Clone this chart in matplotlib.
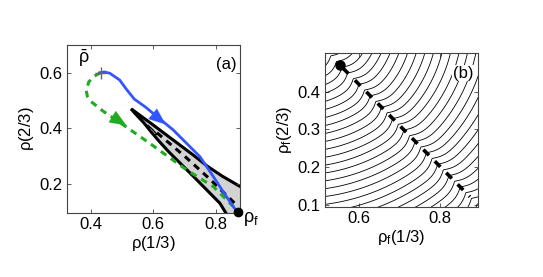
import numpy as np
import matplotlib

matplotlib.use("Agg")
import matplotlib.pyplot as plt
from matplotlib.patches import Polygon

plt.rcParams["font.family"] = ["Liberation Sans", "DejaVu Sans"]
plt.rcParams["mathtext.fontset"] = "custom"
plt.rcParams["mathtext.rm"] = "Liberation Sans"
plt.rcParams["mathtext.it"] = "Liberation Sans:italic"
plt.rcParams["font.size"] = 12

# ---- panel (a) data --------------------------------------------------------
blue_x = [0.429, 0.445, 0.462, 0.493, 0.515, 0.540, 0.575, 0.610, 0.664, 0.749, 0.792, 0.830, 0.862]
blue_y = [0.600, 0.603, 0.598, 0.574, 0.540, 0.505, 0.477, 0.444, 0.394, 0.298, 0.226, 0.160, 0.108]

green_x = [0.432, 0.412, 0.395, 0.386, 0.390, 0.402, 0.440, 0.482, 0.589, 0.707, 0.792, 0.856]
green_y = [0.600, 0.588, 0.568, 0.538, 0.515, 0.496, 0.462, 0.430, 0.346, 0.250, 0.190, 0.118]

# thin basin region (outline), runs off the right/bottom edge
region_x = [0.530, 0.560, 0.600, 0.640, 0.685, 0.730, 0.771, 0.820, 0.878, 0.900,
            0.900, 0.840, 0.813, 0.771, 0.730, 0.690, 0.650, 0.620, 0.595, 0.570, 0.540]
region_y = [0.470, 0.445, 0.412, 0.378, 0.340, 0.302, 0.265, 0.228, 0.190, 0.180,
            0.080, 0.080, 0.130, 0.178, 0.225, 0.270, 0.315, 0.352, 0.385, 0.420, 0.456]
hole_x = [0.582, 0.596, 0.612, 0.605, 0.588]
hole_y = [0.412, 0.398, 0.378, 0.376, 0.398]

bdash_x = [0.612, 0.700, 0.780, 0.862]
bdash_y = [0.384, 0.300, 0.218, 0.128]

rho_bar = (0.432, 0.600)
rho_f = (0.872, 0.100)

# ---- panel (b) data --------------------------------------------------------
path_x = [0.553, 0.874]
path_y = [0.470, 0.122]
field_center = (0.45, 0.585)
kink_strength = 0.6
kink_width = 0.03
levels = np.arange(0.08, 0.72, 0.0205)

fig = plt.figure(figsize=(5.43, 2.77), dpi=100)
ax_a = fig.add_axes([0.1234, 0.231, 0.3186, 0.6065])
ax_b = fig.add_axes([0.5985, 0.2527, 0.2818, 0.556])

spine_col = "#444444"
for ax in (ax_a, ax_b):
    for sp in ax.spines.values():
        sp.set_color(spine_col)
        sp.set_linewidth(0.8)
    ax.tick_params(direction="in", top=True, right=True, length=3, width=0.6,
                   color=spine_col, labelsize=12, pad=3)

# ---- (a) -------------------------------------------------------------------
region = Polygon(np.column_stack([region_x, region_y]), closed=True,
                 facecolor="#d3d3d3", edgecolor="black", lw=2.2, zorder=1)
ax_a.add_patch(region)
ax_a.fill(hole_x, hole_y, facecolor="#e6e6e6", edgecolor="black", lw=1.0, zorder=1.5)
ax_a.plot(bdash_x, bdash_y, color="black", lw=2.2, dashes=(2.2, 1.8), zorder=2)
ax_a.plot(green_x, green_y, color="#22aa22", lw=2.2, dashes=(2.2, 1.8), zorder=3)
ax_a.plot(blue_x, blue_y, color="#3355ff", lw=2.0, zorder=4)

# direction arrows
arrow_style = dict(arrowstyle="-|>,head_length=1.0,head_width=0.4", lw=0.1,
                   shrinkA=0, shrinkB=0)
ax_a.annotate("", xy=(0.640, 0.414), xytext=(0.590, 0.460),
              arrowprops=dict(color="#3355ff", **arrow_style), zorder=5)
ax_a.annotate("", xy=(0.515, 0.410), xytext=(0.455, 0.452),
              arrowprops=dict(color="#22aa22", **arrow_style), zorder=5)

ax_a.plot(*rho_bar, marker="+", color="#666666", ms=9, mew=1.0, zorder=6)
ax_a.plot(*rho_f, marker="o", color="black", ms=6, zorder=6, clip_on=False)
ax_a.text(0.360, 0.615, r"$\bar{\mathrm{\rho}}$", fontsize=13, ha="left", va="bottom")
ax_a.text(0.885, 0.075, r"$\mathrm{\rho_f}$", fontsize=13, ha="left", va="center",
          clip_on=False)
ax_a.text(0.865, 0.630, "(a)", ha="right", va="center", fontsize=12)

ax_a.set_xlim(0.325, 0.877)
ax_a.set_ylim(0.095, 0.700)
ax_a.set_xticks([0.4, 0.6, 0.8])
ax_a.set_yticks([0.2, 0.4, 0.6])
ax_a.set_xlabel(r"$\mathrm{\rho}$(1/3)", labelpad=1)
ax_a.set_ylabel(r"$\mathrm{\rho}$(2/3)", labelpad=3)

# ---- (b) -------------------------------------------------------------------
gx, gy = np.meshgrid(np.linspace(0.49, 0.93, 300), np.linspace(0.07, 0.53, 300))
cx, cy = field_center
r = np.hypot(gx - cx, gy - cy)
dx, dy = path_x[1] - path_x[0], path_y[1] - path_y[0]
dl = np.hypot(dx, dy)
s = ((gx - path_x[0]) * dy - (gy - path_y[0]) * dx) / dl
f = r - kink_strength * kink_width * np.tanh(np.abs(s) / kink_width)
ax_b.contour(gx, gy, f, levels=levels, colors="black", linewidths=0.6,
             linestyles="solid")

# solid lead-in from the start point, then the dashed descent
t0 = 0.065
ax_b.plot([path_x[0], path_x[0] + t0 * dx], [path_y[0], path_y[0] + t0 * dy],
          color="black", lw=2.6, solid_capstyle="butt", zorder=3)
ax_b.plot([path_x[0] + (t0 + 0.05) * dx, path_x[1]],
          [path_y[0] + (t0 + 0.05) * dy, path_y[1]],
          color="black", lw=2.6, dashes=(2.2, 2.3), zorder=3)
ax_b.plot(path_x[0], path_y[0], marker="o", color="black", ms=6.5, zorder=4)
ax_b.text(0.883, 0.449, "(b)", ha="right", va="center", fontsize=12,
          bbox=dict(facecolor="white", edgecolor="none", pad=0.5))

ax_b.set_xlim(0.516, 0.894)
ax_b.set_ylim(0.095, 0.502)
ax_b.set_xticks([0.6, 0.8])
ax_b.set_yticks([0.1, 0.2, 0.3, 0.4])
ax_b.set_xlabel(r"$\mathrm{\rho_f}$(1/3)", labelpad=1)
ax_b.set_ylabel(r"$\mathrm{\rho_f}$(2/3)", labelpad=3)

fig.savefig("out.png", dpi=100)
